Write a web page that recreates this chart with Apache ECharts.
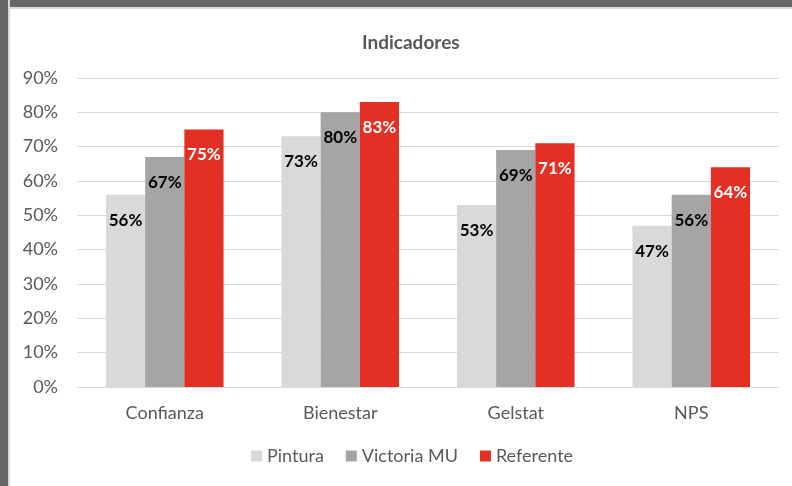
<!DOCTYPE html>
<html>
<head>
<meta charset="utf-8">
<script src="https://cdn.jsdelivr.net/npm/echarts@6/dist/echarts.min.js"></script>
<style>
  html, body { margin: 0; padding: 0; background: #fff; }
  #myEchart { position: absolute; left: 0; top: 0; width: 792px; height: 486px; }
  .frame-left { position: absolute; left: 0; top: 0; width: 8px; height: 486px; background: #666; border-right: 2px solid #d9d9d9; }
  .frame-top { position: absolute; left: 0; top: 0; width: 792px; height: 7px; background: #666; border-bottom: 2px solid #d9d9d9; }
</style>
</head>
<body>
<div id="myEchart"></div>
<div class="frame-top"></div>
<div class="frame-left"></div>
<script>
const categories = ['Confianza', 'Bienestar', 'Gelstat', 'NPS'];
const pintura = [56, 73, 53, 47];
const victoriaMU = [67, 80, 69, 56];
const referente = [75, 83, 71, 64];
const yTicks = [0, 10, 20, 30, 40, 50, 60, 70, 80, 90];

const font = 'Lato, "Open Sans", sans-serif';

const makeLabel = (color) => ({
  show: true,
  position: 'insideTop',
  distance: 17,
  color: color,
  fontFamily: font,
  fontWeight: 'bold',
  fontSize: 17,
  formatter: '{c}%'
});

let myChart = echarts.init(document.getElementById('myEchart'));
myChart.setOption({
  animation: false,
  backgroundColor: '#fff',
  title: {
    text: 'Indicadores',
    left: 357,
    top: 28,
    textStyle: { color: '#595959', fontFamily: font, fontWeight: 'bold', fontSize: 19 }
  },
  legend: {
    bottom: 16,
    left: 246,
    itemWidth: 11,
    itemHeight: 11,
    itemGap: 22,
    icon: 'rect',
    textStyle: { color: '#595959', fontFamily: font, fontSize: 18 },
    data: ['Pintura', 'Victoria MU', 'Referente']
  },
  grid: { left: 77, right: 13, top: 78, bottom: 99 },
  xAxis: {
    type: 'category',
    data: categories,
    axisLine: { lineStyle: { color: '#d9d9d9' } },
    axisTick: { show: false },
    axisLabel: { color: '#595959', fontFamily: font, fontSize: 18, margin: 17 }
  },
  yAxis: {
    type: 'value',
    min: yTicks[0],
    max: yTicks[yTicks.length - 1],
    interval: 10,
    axisLine: { show: false },
    axisTick: { show: false },
    splitLine: { lineStyle: { color: '#d9d9d9', width: 1 } },
    axisLabel: { color: '#595959', fontFamily: font, fontSize: 18, margin: 19, formatter: '{value}%' }
  },
  series: [
    {
      name: 'Pintura', type: 'bar', data: pintura,
      barGap: '0%', barCategoryGap: '33%',
      itemStyle: { color: '#d9d9d9' },
      label: makeLabel('#000')
    },
    {
      name: 'Victoria MU', type: 'bar', data: victoriaMU,
      barGap: '0%', barCategoryGap: '33%',
      itemStyle: { color: '#a5a5a5' },
      label: makeLabel('#000')
    },
    {
      name: 'Referente', type: 'bar', data: referente,
      barGap: '0%', barCategoryGap: '33%',
      itemStyle: { color: '#e32f24' },
      label: makeLabel('#fff')
    }
  ]
});
</script>
</body>
</html>
